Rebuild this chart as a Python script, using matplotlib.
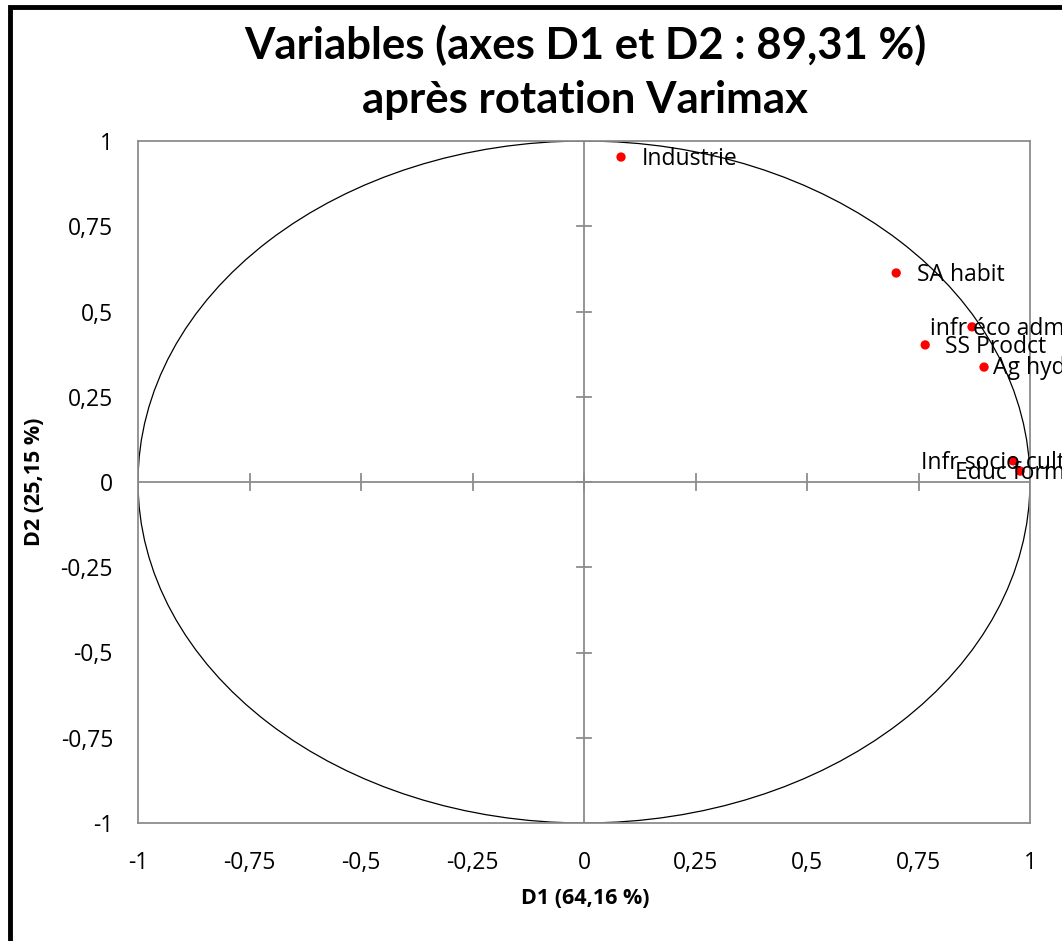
import numpy as np
import matplotlib
matplotlib.use("Agg")
import matplotlib.pyplot as plt
from matplotlib.patches import Circle, Rectangle

# Data
labels = ["Industrie", "SA habit", "infr éco adm", "SS Prodct", "Ag hyd", "Infr socio cult", "Educ form"]
d1 = [0.083, 0.700, 0.870, 0.765, 0.897, 0.962, 0.978]
d2 = [0.953, 0.613, 0.455, 0.402, 0.337, 0.062, 0.032]
ticks = [-1, -0.75, -0.5, -0.25, 0, 0.25, 0.5, 0.75, 1]
tick_labels = ["-1", "-0,75", "-0,5", "-0,25", "0", "0,25", "0,5", "0,75", "1"]
title_line1 = "Variables (axes D1 et D2 : 89,31 %)"
title_line2 = "après rotation Varimax"
xlabel = "D1 (64,16 %)"
ylabel = "D2 (25,15 %)"

# label offsets in pixels (dx, dy)
offsets = [(21, -2), (21, -2), (-42, -2), (20, -2), (9, -1), (-92, -2), (-65, -2)]

W, H = 1062, 941
fig = plt.figure(figsize=(W / 100, H / 100), dpi=100)
fig.patch.set_facecolor("white")

ax = fig.add_axes([138 / W, 1 - 823 / H, (1030 - 138) / W, (823 - 141) / H])
ax.set_xlim(-1, 1)
ax.set_ylim(-1, 1)
for s in ax.spines.values():
    s.set_color("#8c8c8c")
    s.set_linewidth(1.3)

ax.set_xticks(ticks)
ax.set_xticklabels(tick_labels)
ax.set_yticks(ticks)
ax.set_yticklabels(tick_labels)
ax.tick_params(length=0, labelsize=16.5)
for t in ax.get_xticklabels() + ax.get_yticklabels():
    t.set_fontfamily("Open Sans")
ax.tick_params(axis="y", pad=18)
ax.tick_params(axis="x", pad=20)

# axes lines through origin
ax.axhline(0, color="#8c8c8c", lw=1.3, zorder=1)
ax.axvline(0, color="#8c8c8c", lw=1.3, zorder=1)
tick_half = 0.022
for t in ticks:
    ax.plot([t, t], [-tick_half, tick_half], color="#8c8c8c", lw=1.3, zorder=1)
    ax.plot([-tick_half * 0.76, tick_half * 0.76], [t, t], color="#8c8c8c", lw=1.3, zorder=1)

# correlation circle
circ = Circle((0, 0), 1, fill=False, ec="black", lw=0.9, zorder=2)
ax.add_patch(circ)

ax.scatter(d1, d2, s=45, color="#ff0000", zorder=4, edgecolors="none", clip_on=False)
for lab, x, y, (dx, dy) in zip(labels, d1, d2, offsets):
    ax.annotate(lab, (x, y), xytext=(dx * 0.72, dy * 0.72), textcoords="offset points",
                ha="left", va="center", fontsize=16.5, fontfamily="Open Sans",
                color="black", annotation_clip=False, zorder=5)

fig.text(585 / W, 1 - 45 / H, title_line1, ha="center", va="center", fontsize=31.5,
         fontweight="bold", fontfamily="Lato")
fig.text(585 / W, 1 - 100 / H, title_line2, ha="center", va="center", fontsize=31.5,
         fontweight="bold", fontfamily="Lato")
fig.text(585 / W, 1 - 899 / H, xlabel, ha="center", va="center", fontsize=15.5,
         fontweight="bold", fontfamily="Open Sans")
fig.text(35 / W, 1 - 482 / H, ylabel, ha="center", va="center", fontsize=15.5,
         fontweight="bold", fontfamily="Open Sans", rotation=90)

# outer chart border (cropped)
fig.patches.append(Rectangle((10 / W, -0.1), 1.2, 1 - 7 / H + 0.1, transform=fig.transFigure,
                             fill=False, ec="black", lw=3.5, zorder=10))

fig.savefig("out.png", dpi=100)
